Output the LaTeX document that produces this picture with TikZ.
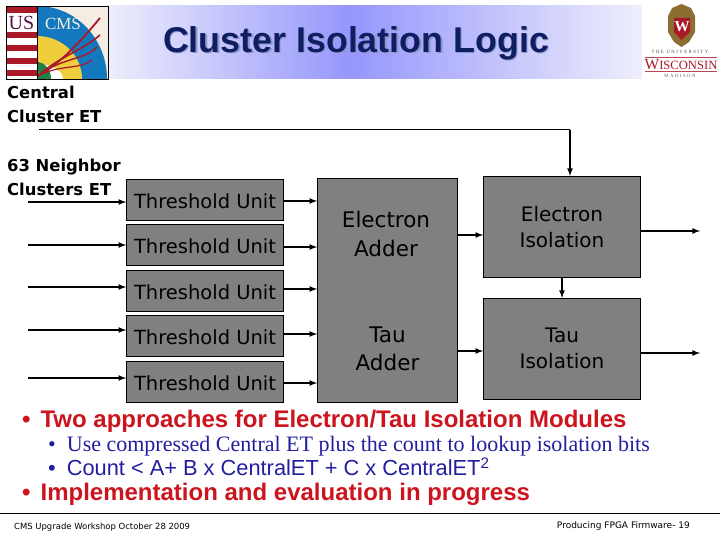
\documentclass[tikz,border=0pt]{standalone}
\usepackage{fontspec}
\setmainfont{Liberation Sans}
\newfontfamily\boxfont{DejaVu Sans}
\newfontfamily\itemfont{Liberation Serif}
\newfontfamily\spacedfont[LetterSpace=30]{Liberation Serif}
\definecolor{boxgray}{RGB}{128,128,128}
\definecolor{bandblue}{RGB}{150,150,252}
\definecolor{bandpale}{RGB}{238,238,252}
\definecolor{titlenavy}{RGB}{14,30,96}
\definecolor{titleshade}{RGB}{140,150,200}
\definecolor{itemred}{RGB}{204,20,30}
\definecolor{itemblue}{RGB}{35,30,160}
\definecolor{logored}{RGB}{170,25,40}
\definecolor{logoblue}{RGB}{20,120,190}
\definecolor{logobeige}{RGB}{245,236,228}
\definecolor{logoyellow}{RGB}{240,205,60}
\definecolor{logogreen}{RGB}{30,130,70}
\definecolor{crestgold}{RGB}{140,110,50}

\begin{document}
\begin{tikzpicture}[x=1pt, y=-1pt,
    unitbox/.style={draw=black, fill=boxgray, line width=0.7pt, minimum width=157pt, minimum height=41pt, inner sep=0pt, text height=17pt, text depth=0pt, font=\boxfont\fontsize{19.5}{19.5}\selectfont},
    isobox/.style={draw=black, fill=boxgray, line width=0.7pt, minimum width=157pt, minimum height=101pt, inner sep=0pt, align=center, font=\boxfont\fontsize{20}{26}\selectfont},
    addbox/.style={draw=black, fill=boxgray, line width=0.7pt, minimum width=140pt, minimum height=224pt, inner sep=0pt},
    addlabel/.style={align=center, inner sep=0pt, font=\boxfont\fontsize{21.5}{28.5}\selectfont},
    sidelabel/.style={anchor=west, align=left, inner sep=0pt, font=\boxfont\bfseries\fontsize{16.4}{24}\selectfont},
    sig/.style={line width=1.6pt, -latex},
    redline/.style={anchor=base west, inner sep=0pt, text=itemred, font=\bfseries\fontsize{24}{24}\selectfont},
    blueline/.style={anchor=base west, inner sep=0pt, text=itemblue},
    foot/.style={inner sep=0pt, anchor=base}]

    \useasboundingbox (0,0) rectangle (720,540);

    % Title band
    \shade[left color=bandpale, right color=bandblue] (108,6) rectangle (350,79);
    \shade[left color=bandblue, right color=bandpale] (350,6) rectangle (642,79);
    \node[text=titleshade, anchor=base, inner sep=0pt, font=\bfseries\fontsize{35.8}{36}\selectfont] (titleback) at (357.5,53.5) {Cluster Isolation Logic};
    \node[text=titlenavy, anchor=base, inner sep=0pt, font=\bfseries\fontsize{35.8}{36}\selectfont] (title) at (356,52.3) {Cluster Isolation Logic};

    % CMS logo
    \fill[logobeige] (6,6) rectangle (108,79);
    \begin{scope}
        \clip (6,6) rectangle (108,79);
        \fill[logoblue] (37,79) -- (37,6) arc (90:0:70pt and 73pt) -- cycle;
        \fill[logoyellow] (37,79) -- (37,36) arc (90:0:45pt and 43pt) -- cycle;
        \fill[white] (37,79) -- (37,64) arc (90:0:26pt and 15pt) -- cycle;
        \fill[logogreen] (37,79) -- (37,62) arc (90:0:14pt and 17pt) -- cycle;
        \draw[logored, line width=1.8pt] (38,76) .. controls (62,62) and (80,42) .. (100,18);
        \draw[logored, line width=1.6pt] (38,76) .. controls (60,56) and (80,52) .. (100,35);
        \draw[logored, line width=1.4pt] (38,76) .. controls (60,58) and (85,60) .. (97,47);
        \draw[logored, line width=1.2pt] (38,76) .. controls (60,64) and (80,70) .. (92,60);
        \fill[white] (6,6) rectangle (37,79);
        \foreach \ypos in {6.5,32,45,58,70} {
            \fill[logored] (6,\ypos) rectangle (37,\ypos+6.5);
        }
    \end{scope}
    \node[text=titlenavy!70!red, inner sep=0pt, font=\itemfont\fontsize{20}{20}\selectfont] (uslabel) at (21.5,23) {US};
    \node[text=logobeige, inner sep=0pt, font=\itemfont\fontsize{17}{17}\selectfont] (cmslabel) at (63,24) {CMS};
    \draw[black, line width=0.7pt] (6,6) rectangle (108,79);
    \draw[black, line width=0.7pt] (37,6) -- (37,79);

    % Wisconsin crest
    \fill[crestgold] (672,8) -- (681.5,4) -- (691,8) -- (695,16) -- (695,32) -- (689,42) -- (681.5,47) -- (674,42) -- (668,32) -- (668,16) -- cycle;
    \fill[logored] (674,18) -- (690,18) -- (690,32) -- (681.5,40) -- (674,32) -- cycle;
    \node[text=white, inner sep=0pt, font=\itemfont\bfseries\fontsize{15}{15}\selectfont] (crestw) at (682,27) {W};
    \node[inner sep=0pt, text=black!70, font=\spacedfont\fontsize{4.8}{5}\selectfont] (uwtop) at (680,52) {THE UNIVERSITY};
    \node[inner sep=0pt, text=logored, font=\itemfont\fontsize{12.6}{13}\selectfont] (uwname) at (681,65) {{\fontsize{15.5}{15}\selectfont W}ISCONSIN};
    \node[inner sep=0pt, text=black!60, font=\spacedfont\fontsize{4.8}{5}\selectfont] (uwbottom) at (680,75.5) {MADISON};
    \draw[logored!80, line width=0.5pt] (645,57) -- (717,57) (645,71.5) -- (717,71.5);

    % Threshold units
    \node[unitbox] (th1) at (205,199.7) {Threshold Unit};
    \node[unitbox] (th2) at (205,245.2) {Threshold Unit};
    \node[unitbox] (th3) at (205,290.7) {Threshold Unit};
    \node[unitbox] (th4) at (205,335.7) {Threshold Unit};
    \node[unitbox] (th5) at (205,381.5) {Threshold Unit};

    % Adder and isolation blocks
    \node[addbox] (adder) at (387.5,290.3) {};
    \node[addlabel] (eadd) at (386,234) {Electron\\Adder};
    \node[addlabel] (tadd) at (387.5,349) {Tau\\Adder};
    \node[isobox] (eiso) at (562,226.8) {Electron\\Isolation};
    \node[isobox] (tiso) at (562,348.8) {Tau\\Isolation};

    % Input labels
    \node[sidelabel] (central) at (7,104) {Central\\Cluster ET};
    \node[sidelabel] (neigh) at (7,177) {63 Neighbor\\Clusters ET};

    % Inputs and unit outputs
    \foreach \unit/\yin/\yout in {th1/202/201, th2/245/247, th3/287/289, th4/330/334, th5/378/383} {
        \coordinate (\unit in) at (28,\yin);
        \draw[sig] (\unit in) -- (\unit.west |- \unit in);
        \coordinate (\unit out) at (283.5,\yout);
        \draw[sig] (\unit out) -- (\unit out -| adder.west);
    }

    % Central cluster line
    \coordinate (cstart) at (39,129.7);
    \coordinate (cturn) at (570,129.7);
    \draw[line width=0.7pt] (cstart) -- (cturn);
    \draw[sig] (cturn) -- (cturn |- eiso.north);

    % Adder to isolation
    \coordinate (eadder) at (457.5,235);
    \coordinate (tadder) at (457.5,351);
    \draw[sig] (eadder) -- (eadder -| eiso.west);
    \draw[sig] (tadder) -- (tadder -| tiso.west);
    \draw[sig] (eiso) -- (tiso);

    % Isolation outputs
    \coordinate (eout) at (700,231);
    \coordinate (tout) at (700,353);
    \draw[sig] (eout -| eiso.east) -- (eout);
    \draw[sig] (tout -| tiso.east) -- (tout);

    % Bullet text
    \node[redline] (item1) at (22,427) {\textbullet\hspace{10pt}Two approaches for Electron/Tau Isolation Modules};
    \node[blueline, font=\itemfont\fontsize{22}{22}\selectfont] (item2) at (48,451.7) {\textbullet\hspace{11pt}Use compressed Central ET plus the count to lookup isolation bits};
    \node[blueline, font=\fontsize{21.8}{22}\selectfont] (item3) at (48,475.7) {\textbullet\hspace{11pt}Count < A+ B x CentralET + C x CentralET\textsuperscript{2}};
    \node[redline] (item4) at (22,500.7) {\textbullet\hspace{10pt}Implementation and evaluation in progress};

    % Footer
    \coordinate (ruleleft) at (0,513.3);
    \coordinate (ruleright) at (720,513.3);
    \draw[line width=0.7pt] (ruleleft) -- (ruleright);
    \node[foot, anchor=base west, font=\boxfont\fontsize{8.45}{9}\selectfont] (footleft) at (14,529) {CMS Upgrade Workshop October 28 2009};
    \node[foot, anchor=base east, font=\boxfont\fontsize{9}{9}\selectfont] (footright) at (690,528) {Producing FPGA Firmware- 19};

\end{tikzpicture}
\end{document}
